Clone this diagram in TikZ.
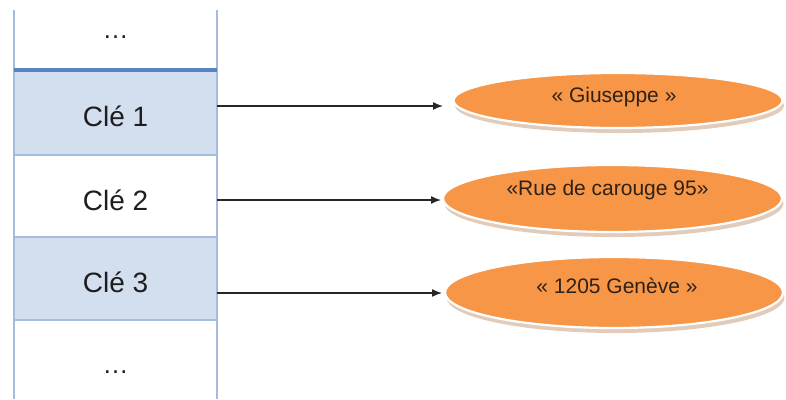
\documentclass[tikz,border=0pt]{standalone}
\usepackage{fontspec}
\setmainfont{Liberation Sans}
\usetikzlibrary{arrows.meta,shapes.geometric,shadows}

\definecolor{cellblue}{HTML}{D3DFEE}
\definecolor{gridblue}{HTML}{A4BDDD}
\definecolor{headblue}{HTML}{5584C0}
\definecolor{valorange}{HTML}{F79646}
\definecolor{shadowtan}{HTML}{C9A384}
\definecolor{keytext}{HTML}{1E1E1E}
\definecolor{valtext}{HTML}{2E2218}
\definecolor{arrowgray}{HTML}{262626}

\begin{document}
\begin{tikzpicture}[x=1pt,y=-1pt,
  cell/.style={rectangle, minimum width=203pt, inner sep=0pt, outer sep=0pt,
    font=\fontsize{28}{28}\selectfont, text=keytext, text height=28pt, text depth=0pt},
  dotsnode/.style={inner sep=0pt, font=\fontsize{26}{26}\selectfont, text=keytext},
  vline/.style={draw=gridblue, line width=2pt},
  sepline/.style={draw=gridblue, line width=1.4pt},
  headline/.style={draw=headblue, line width=3.5pt},
  value/.style={ellipse, fill=valorange, draw=white, line width=2.2pt, inner sep=0pt,
    drop shadow={shadow xshift=1.5pt, shadow yshift=-5pt, fill=shadowtan, opacity=0.55}},
  valtxt/.style={inner sep=0pt, font=\fontsize{21}{21}\selectfont, text=valtext},
  link/.style={draw=arrowgray, line width=1.4pt, -{Latex[length=10pt,width=8pt]}}]

\useasboundingbox (0,0) rectangle (786,399);

% key column
\node[cell, minimum height=60pt] (r0) at (115.5,40) {};
\node[cell, minimum height=85pt, fill=cellblue] (r1) at (115.5,112.5) {Clé 1};
\node[cell, minimum height=82pt] (r2) at (115.5,196) {Clé 2};
\node[cell, minimum height=83pt, fill=cellblue] (r3) at (115.5,278.5) {Clé 3};
\node[cell, minimum height=79pt] (r4) at (115.5,359.5) {};
\node[dotsnode] (d0) at (115.5,37) {…};
\node[dotsnode] (d4) at (115.5,372) {…};

\draw[sepline] (r1.south west) -- (r1.south east);
\draw[sepline] (r2.south west) -- (r2.south east);
\draw[sepline] (r3.south west) -- (r3.south east);
\draw[vline] (r0.north west) -- (r4.south west);
\draw[vline] (r0.north east) -- (r4.south east);
\draw[headline] (r0.south west) -- (r0.south east);

% values
\node[value, minimum width=329pt, minimum height=55pt] (e1) at (618,100.5) {};
\node[value, minimum width=339pt, minimum height=67pt] (e2) at (612.5,198.5) {};
\node[value, minimum width=338pt, minimum height=71pt] (e3) at (614,292.5) {};
\node[valtxt] (t1) at ([xshift=-4pt,yshift=3pt]e1.center) {« Giuseppe »};
\node[valtxt] (t2) at ([xshift=-5pt,yshift=8.5pt]e2.center) {«Rue de carouge 95»};
\node[valtxt] (t3) at ([xshift=3pt,yshift=7pt]e3.center) {« 1205 Genève »};

% links
\coordinate (a1) at (443,106);
\coordinate (a2) at (441,200);
\coordinate (a3) at (442,293);
\draw[link] (r1.east |- a1) -- (a1);
\draw[link] (r2.east |- a2) -- (a2);
\draw[link] (r3.east |- a3) -- (a3);
\end{tikzpicture}
\end{document}
